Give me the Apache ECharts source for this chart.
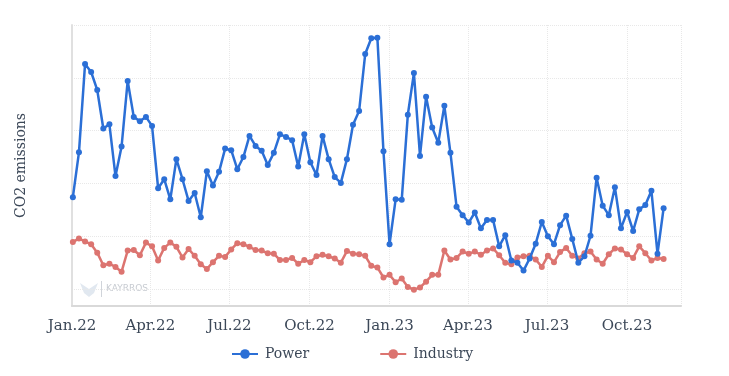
<!DOCTYPE html>
<html>
<head>
<meta charset="utf-8">
<script src="https://cdn.jsdelivr.net/npm/echarts@6/dist/echarts.min.js"></script>
<style>
  html, body { margin: 0; padding: 0; background: #fff; }
  #chart { width: 729px; height: 376px; }
</style>
</head>
<body>
<div id="chart"></div>
<script>
// weekly readings, first week starting 2022-01-02
var firstWeek = '2022-01-02';

var power = [
  37.4, 45.9, 62.6, 61.1, 57.7, 50.4, 51.2, 41.4, 47.0, 59.4,
  52.6, 51.8, 52.6, 50.9, 39.1, 40.8, 37.0, 44.6, 40.8, 36.7,
  38.2, 33.6, 42.3, 39.6, 42.2, 46.6, 46.3, 42.7, 45.0, 49.0,
  47.1, 46.2, 43.5, 45.8, 49.3, 48.8, 48.2, 43.2, 49.3, 44.0,
  41.6, 49.0, 44.6, 41.2, 40.1, 44.6, 51.1, 53.7, 64.5, 67.5,
  67.6, 46.1, 28.5, 37.0, 36.9, 53.0, 60.9, 45.2, 56.4, 50.6,
  47.7, 54.7, 45.8, 35.6, 34.0, 32.6, 34.5, 31.5, 33.1, 33.1,
  28.1, 30.2, 25.4, 25.0, 23.5, 25.8, 28.6, 32.7, 30.0, 28.5,
  32.1, 33.9, 29.5, 25.0, 26.2, 30.1, 41.1, 35.8, 34.0, 39.3,
  31.5, 34.6, 31.0, 35.1, 35.9, 38.6, 26.7, 35.3
];

var industry = [
  28.9, 29.6, 29.0, 28.5, 26.9, 24.5, 24.8, 24.2, 23.3, 27.3,
  27.4, 26.4, 28.8, 28.1, 25.4, 27.8, 28.8, 28.0, 26.0, 27.6,
  26.3, 24.7, 23.8, 25.1, 26.3, 26.1, 27.5, 28.7, 28.5, 28.0,
  27.4, 27.3, 26.8, 26.7, 25.5, 25.5, 25.9, 24.8, 25.5, 25.1,
  26.2, 26.5, 26.2, 25.8, 25.0, 27.2, 26.7, 26.6, 26.3, 24.4,
  24.1, 22.2, 22.7, 21.3, 22.0, 20.4, 19.9, 20.3, 21.4, 22.7,
  22.7, 27.3, 25.6, 25.9, 27.1, 26.7, 27.1, 26.5, 27.3, 27.7,
  26.4, 25.0, 24.7, 26.0, 26.2, 26.3, 25.6, 24.2, 26.3, 25.1,
  27.0, 27.8, 26.3, 25.8, 26.8, 27.1, 25.6, 24.8, 26.6, 27.7,
  27.5, 26.6, 25.9, 28.1, 26.8, 25.4, 25.9, 25.7
];

var monthNames = ['Jan', 'Feb', 'Mar', 'Apr', 'May', 'Jun', 'Jul', 'Aug', 'Sep', 'Oct', 'Nov', 'Dec'];
var DAY = 24 * 3600 * 1000;

var weeks = [];
var t0 = new Date(firstWeek + 'T00:00:00').getTime();
for (var i = 0; i < power.length; i++) {
  weeks.push(t0 + i * 7 * DAY);
}

function pairs(vals) {
  return vals.map(function (v, i) { return [weeks[i], v]; });
}

var fontFam = '"DejaVu Serif", serif';

var myChart = echarts.init(document.getElementById('chart'));
myChart.setOption({
  animation: false,
  color: ['#2b6fd6', '#dc7470'],
  grid: { left: 72, right: 48, top: 25, bottom: 70 },
  legend: {
    left: 226,
    bottom: 10,
    itemGap: 70,
    itemWidth: 26,
    itemHeight: 12,
    textStyle: { fontFamily: fontFam, fontSize: 14, color: '#3c4858', padding: [0, 0, 0, 2] },
    data: ['Power', 'Industry']
  },
  xAxis: {
    type: 'time',
    min: new Date('2022-01-01T00:00:00').getTime(),
    max: new Date('2023-12-02T00:00:00').getTime(),
    minInterval: 88 * DAY,
    maxInterval: 93 * DAY,
    axisLine: { lineStyle: { color: '#d9d9d9', width: 2 } },
    axisTick: { show: false },
    axisLabel: {
      fontFamily: fontFam,
      fontSize: 15,
      color: '#3c4858',
      margin: 13,
      hideOverlap: false,
      formatter: function (val) {
        var d = new Date(val);
        return monthNames[d.getMonth()] + '.' + String(d.getFullYear()).slice(2);
      }
    },
    splitLine: { show: true, lineStyle: { color: '#e8e8e8', type: 'dotted' } }
  },
  yAxis: {
    type: 'value',
    min: 16.8,
    max: 70,
    name: 'CO2 emissions',
    nameLocation: 'middle',
    nameGap: 44,
    nameTextStyle: { fontFamily: fontFam, fontSize: 14, color: '#3c4858' },
    axisLabel: { show: false },
    axisTick: { show: false },
    axisLine: { show: true, lineStyle: { color: '#e0e0e0', width: 2 } },
    splitLine: { lineStyle: { color: '#e8e8e8', type: 'dotted' } }
  },
  graphic: [
    {
      type: 'text',
      left: 106,
      top: 284,
      style: { text: 'KAYRROS', fill: '#c8ccd2', font: '9px "DejaVu Sans", sans-serif' }
    },
    {
      type: 'rect',
      left: 101,
      top: 281,
      shape: { width: 1, height: 16 },
      style: { fill: '#d0d4da' }
    },
    {
      type: 'polygon',
      left: 80,
      top: 283,
      shape: { points: [[0, 0], [9, 6], [9, 14], [4, 10], [0, 0]] },
      style: { fill: '#e1e8f0' }
    },
    {
      type: 'polygon',
      left: 89,
      top: 283,
      shape: { points: [[9, 0], [0, 6], [0, 14], [5, 10], [9, 0]] },
      style: { fill: '#e1e8f0' }
    }
  ],
  series: [
    {
      name: 'Power',
      type: 'line',
      data: pairs(power),
      symbol: 'circle',
      symbolSize: 6,
      lineStyle: { width: 2.5 },
      z: 3
    },
    {
      name: 'Industry',
      type: 'line',
      data: pairs(industry),
      symbol: 'circle',
      symbolSize: 6,
      lineStyle: { width: 2.5 },
      z: 2
    }
  ]
});
</script>
</body>
</html>
